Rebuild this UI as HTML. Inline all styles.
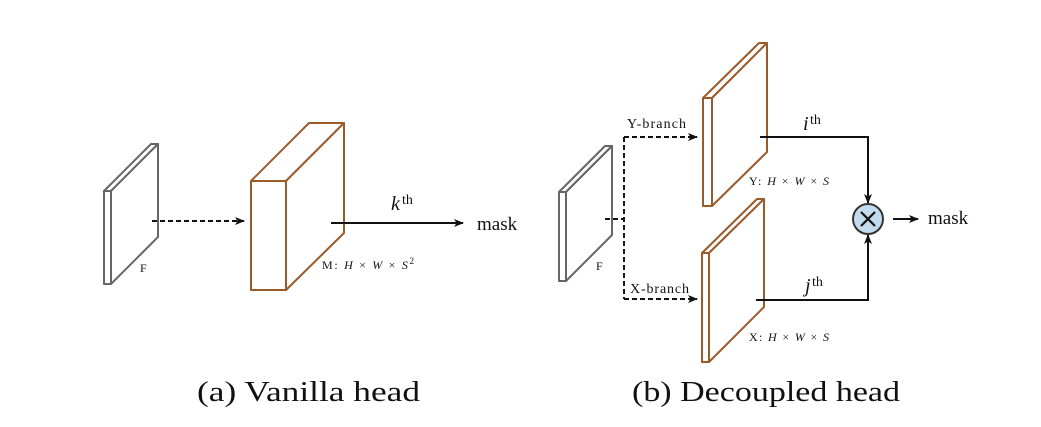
<!DOCTYPE html>
<html><head><meta charset="utf-8"><style>
html,body{margin:0;padding:0;background:#fff;}
svg{display:block;}
text{font-family:"Liberation Serif",serif;fill:#111;}
</style></head><body>
<svg width="1041" height="427" viewBox="0 0 1041 427" xmlns="http://www.w3.org/2000/svg">
<defs>
<marker id="ah" markerWidth="10" markerHeight="8" refX="9" refY="4" orient="auto" markerUnits="userSpaceOnUse">
<path d="M0,0 L10,4 L0,8 L2.5,4 Z" fill="#111"/></marker>
</defs>
<!-- (a) F slab -->
<g fill="#fff" stroke="#666" stroke-width="2" stroke-linejoin="round">
<path d="M104,191 L151,144 L158,144 L111,191 Z"/>
<path d="M111,191 L158,144 L158,237 L111,284 Z"/>
<rect x="104" y="191" width="7" height="93"/>
</g>
<text x="140" y="272" font-size="12">F</text>
<line x1="152" y1="221" x2="244" y2="221" stroke="#111" stroke-width="2" stroke-dasharray="5,3" marker-end="url(#ah)"/>
<!-- M box -->
<g fill="#fff" stroke="#9a5a2a" stroke-width="2" stroke-linejoin="round">
<path d="M251,181 L309,123 L344,123 L286,181 Z"/>
<path d="M286,181 L344,123 L344,233 L286,290 Z"/>
<rect x="251" y="181" width="35" height="109"/>
</g>
<line x1="331" y1="223" x2="463" y2="223" stroke="#111" stroke-width="2" marker-end="url(#ah)"/>
<text x="391" y="210" font-size="20" font-style="italic">k</text><text x="402" y="204" font-size="14">th</text>
<text x="477" y="230" font-size="19">mask</text>
<text x="322" y="269" font-size="12" textLength="92">M:  <tspan font-style="italic">H</tspan> × <tspan font-style="italic">W</tspan> × <tspan font-style="italic">S</tspan><tspan font-size="9" dy="-5">2</tspan></text>
<text x="197" y="401" font-size="28" textLength="223" lengthAdjust="spacingAndGlyphs">(a) Vanilla head</text>

<!-- (b) F slab -->
<g fill="#fff" stroke="#666" stroke-width="2" stroke-linejoin="round">
<path d="M559,192 L605,146 L612,146 L566,192 Z"/>
<path d="M566,192 L612,146 L612,235 L566,281 Z"/>
<rect x="559" y="192" width="7" height="89"/>
</g>
<text x="596" y="270" font-size="12">F</text>
<g stroke="#111" stroke-width="2" stroke-dasharray="5,3" fill="none">
<line x1="605" y1="219" x2="624" y2="219"/>
<line x1="624" y1="137" x2="624" y2="299"/>
<line x1="624" y1="137" x2="697" y2="137" marker-end="url(#ah)"/>
<line x1="624" y1="299" x2="697" y2="299" marker-end="url(#ah)"/>
</g>
<text x="627" y="128" font-size="14" textLength="59">Y-branch</text>
<text x="630" y="293" font-size="14" textLength="59">X-branch</text>
<!-- Y slab -->
<g fill="#fff" stroke="#9a5a2a" stroke-width="2" stroke-linejoin="round">
<path d="M703,98 L759,43 L767,43 L712,98 Z"/>
<path d="M712,98 L767,43 L767,152 L712,206 Z"/>
<rect x="703" y="98" width="9" height="108"/>
</g>
<!-- X slab -->
<g fill="#fff" stroke="#9a5a2a" stroke-width="2" stroke-linejoin="round">
<path d="M702,253 L757,199 L764,199 L709,253 Z"/>
<path d="M709,253 L764,199 L764,307 L709,362 Z"/>
<rect x="702" y="253" width="7" height="109"/>
</g>
<text x="749" y="185" font-size="12" textLength="80">Y:  <tspan font-style="italic">H</tspan> × <tspan font-style="italic">W</tspan> × <tspan font-style="italic">S</tspan></text>
<text x="749" y="341" font-size="12" textLength="80">X:  <tspan font-style="italic">H</tspan> × <tspan font-style="italic">W</tspan> × <tspan font-style="italic">S</tspan></text>
<path d="M760,137 L868,137 L868,203" fill="none" stroke="#111" stroke-width="2" marker-end="url(#ah)"/>
<path d="M756,300 L868,300 L868,235" fill="none" stroke="#111" stroke-width="2" marker-end="url(#ah)"/>
<text x="803" y="130" font-size="20" font-style="italic">i</text><text x="810" y="124" font-size="14">th</text>
<text x="805" y="292" font-size="20" font-style="italic">j</text><text x="812" y="286" font-size="14">th</text>
<circle cx="868" cy="219" r="15" fill="#c3dbef" stroke="#333" stroke-width="2"/>
<path d="M861,212 L875,226 M875,212 L861,226" stroke="#111" stroke-width="2.2"/>
<line x1="893" y1="219" x2="918" y2="219" stroke="#111" stroke-width="2" marker-end="url(#ah)"/>
<text x="928" y="224" font-size="19">mask</text>
<text x="632" y="401" font-size="28" textLength="268" lengthAdjust="spacingAndGlyphs">(b) Decoupled head</text>
</svg>
</body></html>
